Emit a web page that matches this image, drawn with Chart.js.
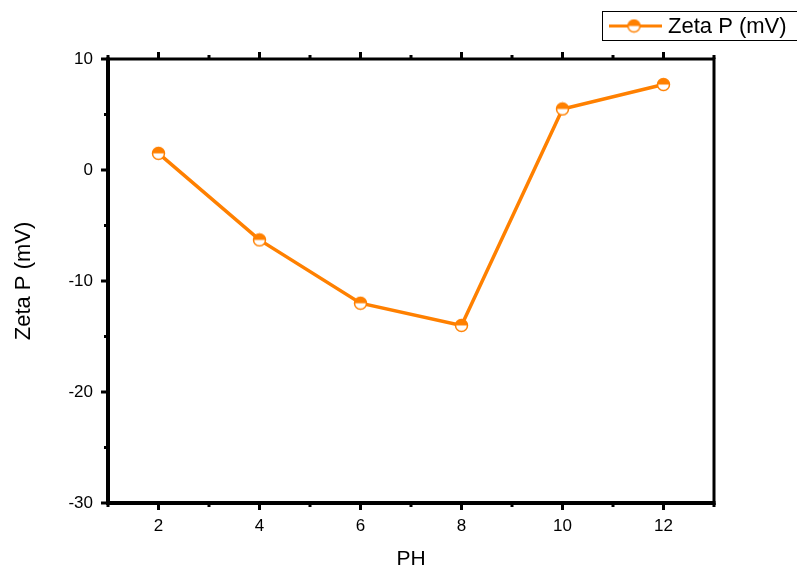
<!DOCTYPE html>
<html>
<head>
<meta charset="utf-8">
<script src="https://cdn.jsdelivr.net/npm/chart.js@4.4.1/dist/chart.umd.min.js"></script>
<style>
html, body { margin: 0; padding: 0; background: #fff; }
#wrap { width: 797px; height: 569px; position: relative; }
</style>
</head>
<body>
<div id="wrap"><canvas id="myChart"></canvas></div>
<script>
// data
const phValues = [2, 4, 6, 8, 10, 12]
const zetaValues = [1.5, -6.3, -12.0, -14.0, 5.5, 7.7]
const xTickValues = [2, 4, 6, 8, 10, 12]
const xMinorValues = [1, 3, 5, 7, 9, 11, 13]
const yTickValues = [-30, -20, -10, 0, 10]
const yMinorValues = [-25, -15, -5, 5]
const seriesLabel = 'Zeta P (mV)'

const orange = '#ff8000'
const fontName = '"Liberation Sans", Arial, sans-serif'

// half filled circle marker
function halfCircle(r) {
    const c = document.createElement('canvas')
    const s = Math.ceil(r * 2 + 3)
    c.width = s
    c.height = s
    const g = c.getContext('2d')
    const m = s / 2
    g.fillStyle = '#fff'
    g.beginPath(); g.arc(m, m, r, 0, Math.PI * 2); g.fill()
    g.fillStyle = orange
    g.beginPath(); g.arc(m, m, r, Math.PI, 0); g.closePath(); g.fill()
    g.strokeStyle = orange
    g.lineWidth = 1.5
    g.beginPath(); g.arc(m, m, r, 0, Math.PI * 2); g.stroke()
    return c
}
const marker = halfCircle(6)

// frame, ticks and legend, the way Origin draws them
const framePlugin = {
    id: 'frame',
    afterDraw(chart) {
        const ctx = chart.ctx
        const a = chart.chartArea
        const xs = chart.scales.x
        const ys = chart.scales.y
        ctx.save()
        ctx.strokeStyle = '#000'
        ctx.lineCap = 'butt'

        // ticks
        ctx.lineWidth = 3
        xTickValues.forEach(v => {
            const px = xs.getPixelForValue(v)
            ctx.beginPath(); ctx.moveTo(px, a.bottom); ctx.lineTo(px, a.bottom + 7); ctx.stroke()
            ctx.beginPath(); ctx.moveTo(px, a.top); ctx.lineTo(px, a.top - 7); ctx.stroke()
        })
        xMinorValues.forEach(v => {
            const px = xs.getPixelForValue(v)
            ctx.beginPath(); ctx.moveTo(px, a.bottom); ctx.lineTo(px, a.bottom + 4); ctx.stroke()
            ctx.beginPath(); ctx.moveTo(px, a.top); ctx.lineTo(px, a.top - 4); ctx.stroke()
        })
        yTickValues.forEach(v => {
            const py = ys.getPixelForValue(v)
            ctx.beginPath(); ctx.moveTo(a.left, py); ctx.lineTo(a.left - 7, py); ctx.stroke()
        })
        yMinorValues.forEach(v => {
            const py = ys.getPixelForValue(v)
            ctx.beginPath(); ctx.moveTo(a.left, py); ctx.lineTo(a.left - 4, py); ctx.stroke()
        })

        // box
        ctx.lineWidth = 3
        ctx.beginPath(); ctx.moveTo(a.left, a.top); ctx.lineTo(a.right, a.top); ctx.stroke()
        ctx.beginPath(); ctx.moveTo(a.right, a.top - 1.5); ctx.lineTo(a.right, a.bottom + 2); ctx.stroke()
        ctx.lineWidth = 4
        ctx.beginPath(); ctx.moveTo(a.left, a.top - 1.5); ctx.lineTo(a.left, a.bottom + 2); ctx.stroke()
        ctx.beginPath(); ctx.moveTo(a.left - 2, a.bottom); ctx.lineTo(a.right + 1.5, a.bottom); ctx.stroke()

        // legend
        ctx.lineWidth = 1
        ctx.strokeRect(602.5, 11.5, 200, 29)
        ctx.strokeStyle = orange
        ctx.lineWidth = 3
        ctx.beginPath(); ctx.moveTo(609, 26); ctx.lineTo(662, 26); ctx.stroke()
        ctx.drawImage(marker, 634 - marker.width / 2, 26 - marker.height / 2)
        ctx.fillStyle = '#000'
        ctx.font = '22px ' + fontName
        ctx.textBaseline = 'middle'
        ctx.textAlign = 'left'
        ctx.fillText(seriesLabel, 668, 27)
        ctx.restore()
    }
}

const canvas = document.getElementById('myChart')
new Chart(canvas, {
    type: 'line',
    data: {
        datasets: [{
            label: seriesLabel,
            data: phValues.map((p, i) => ({ x: p, y: zetaValues[i] })),
            borderColor: orange,
            backgroundColor: orange,
            borderWidth: 3.5,
            pointStyle: marker,
            pointRadius: 6,
            pointHoverRadius: 6,
            tension: 0
        }]
    },
    options: {
        responsive: true,
        maintainAspectRatio: false,
        animation: false,
        layout: { padding: { top: 59, right: 83, left: 0, bottom: 0 } },
        plugins: {
            legend: { display: false },
            tooltip: { enabled: false }
        },
        scales: {
            x: {
                type: 'linear',
                min: 1,
                max: 13,
                afterBuildTicks: s => { s.ticks = xTickValues.map(v => ({ value: v })) },
                afterFit: s => { s.height = 66 },
                grid: { display: false, drawTicks: false },
                border: { display: false },
                ticks: { color: '#000', font: { family: fontName, size: 17 }, padding: 13, maxRotation: 0 },
                title: { display: true, text: 'PH', color: '#000', font: { family: fontName, size: 21 }, padding: { top: 0, bottom: -3 } }
            },
            y: {
                min: -30,
                max: 10,
                afterBuildTicks: s => { s.ticks = yTickValues.map(v => ({ value: v })) },
                afterFit: s => { s.width = 108 },
                grid: { display: false, drawTicks: false },
                border: { display: false },
                ticks: { color: '#000', font: { family: fontName, size: 17 }, padding: 15 },
                title: { display: true, text: seriesLabel, color: '#000', font: { family: fontName, size: 22 }, padding: { top: 11, bottom: 0 } }
            }
        }
    },
    plugins: [framePlugin]
})
</script>
</body>
</html>
